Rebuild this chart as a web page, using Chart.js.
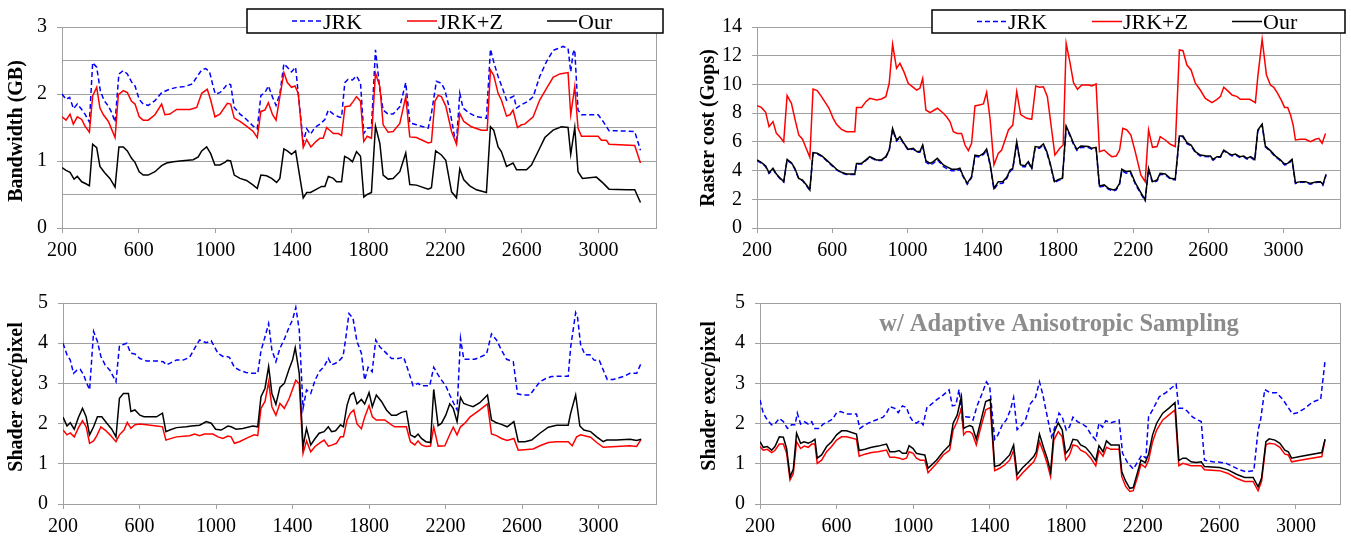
<!DOCTYPE html>
<html><head><meta charset="utf-8">
<script src="https://cdn.jsdelivr.net/npm/chart.js@4.4.0/dist/chart.umd.min.js"></script>
<style>
html,body{margin:0;padding:0;background:#fff;}
#wrap{position:relative;width:1351px;height:540px;overflow:hidden;background:#fff;}
canvas{position:absolute;}
</style></head><body>
<div id="wrap">
<canvas id="c1" width="675" height="270" style="left:0px;top:0px"></canvas>
<canvas id="c2" width="676" height="270" style="left:675px;top:0px"></canvas>
<canvas id="c3" width="675" height="270" style="left:0px;top:270px"></canvas>
<canvas id="c4" width="676" height="270" style="left:675px;top:270px"></canvas>
</div>
<script>
// ---------- categories / tick labels ----------
const seriesNames = ['JRK', 'JRK+Z', 'Our'];
const xTickValues = [200, 600, 1000, 1400, 1800, 2200, 2600, 3000];
const xTickLabels = ['200', '600', '1000', '1400', '1800', '2200', '2600', '3000'];
const bwYTicks = [0, 0.5, 1, 1.5, 2, 2.5, 3];
const bwYLabels = ['0', '', '1', '', '2', '', '3'];
const rcYTicks = [0, 2, 4, 6, 8, 10, 12, 14];
const rcYLabels = ['0', '2', '4', '6', '8', '10', '12', '14'];
const shYTicks = [0, 1, 2, 3, 4, 5];
const shYLabels = ['0', '1', '2', '3', '4', '5'];

// ---------- Bandwidth (GB) ----------
const bwJRK = [[200,2.00],[221,1.92],[240,1.95],[260,1.78],[280,1.85],[300,1.78],[320,1.70],[343,1.58],[360,2.47],[381,2.40],[400,2.05],[420,1.90],[442,1.82],[460,1.72],[477,1.58],[497,2.30],[520,2.35],[541,2.30],[563,2.18],[581,2.12],[603,1.92],[624,1.85],[650,1.83],[685,1.90],[720,2.02],[760,2.07],[800,2.10],[840,2.11],[880,2.15],[903,2.25],[929,2.36],[950,2.38],[970,2.33],[990,2.10],[1000,2.00],[1024,2.02],[1050,2.10],[1063,2.15],[1080,2.14],[1099,1.80],[1129,1.70],[1163,1.62],[1198,1.52],[1219,1.48],[1238,1.98],[1259,2.02],[1277,2.12],[1299,1.95],[1317,1.83],[1337,2.00],[1358,2.45],[1376,2.40],[1398,2.33],[1419,2.40],[1459,1.28],[1477,1.48],[1497,1.40],[1520,1.50],[1546,1.55],[1572,1.62],[1590,1.76],[1616,1.70],[1642,1.66],[1659,1.65],[1676,2.17],[1693,2.22],[1716,2.21],[1737,2.27],[1758,2.16],[1775,1.41],[1793,1.49],[1815,1.50],[1836,2.66],[1859,2.06],[1876,1.76],[1902,1.70],[1928,1.70],[1963,1.81],[1994,2.17],[2015,1.57],[2050,1.54],[2111,1.49],[2128,1.71],[2154,2.19],[2180,2.16],[2198,2.06],[2224,1.76],[2250,1.34],[2259,1.31],[2276,2.01],[2293,1.79],[2328,1.71],[2363,1.66],[2415,1.64],[2436,2.67],[2453,2.48],[2476,2.26],[2502,2.06],[2520,1.91],[2538,1.94],[2558,1.97],[2572,1.79],[2598,1.84],[2632,1.89],[2659,1.96],[2693,2.26],[2728,2.48],[2763,2.65],[2815,2.71],[2841,2.68],[2855,2.33],[2867,2.61],[2876,2.66],[2893,1.76],[2911,1.69],[2998,1.69],[3024,1.59],[3055,1.45],[3110,1.45],[3189,1.44],[3219,1.16]];
const bwJRKZ = [[200,1.66],[221,1.61],[242,1.70],[259,1.55],[280,1.66],[303,1.62],[320,1.52],[343,1.43],[360,1.97],[381,2.10],[398,1.79],[416,1.69],[442,1.59],[477,1.35],[494,1.99],[520,2.05],[541,2.02],[563,1.89],[581,1.85],[603,1.66],[624,1.61],[650,1.61],[685,1.69],[720,1.85],[737,1.69],[763,1.70],[798,1.77],[868,1.77],[903,1.80],[929,2.01],[958,2.07],[976,1.91],[998,1.66],[1024,1.70],[1063,1.86],[1080,1.85],[1099,1.64],[1129,1.59],[1163,1.52],[1198,1.44],[1219,1.35],[1238,1.74],[1259,1.76],[1277,1.87],[1299,1.69],[1317,1.61],[1337,1.96],[1358,2.32],[1376,2.17],[1398,2.10],[1416,2.12],[1433,2.01],[1459,1.20],[1477,1.32],[1499,1.21],[1525,1.29],[1546,1.34],[1563,1.34],[1581,1.50],[1616,1.41],[1642,1.41],[1659,1.38],[1677,1.81],[1702,1.82],[1720,1.89],[1737,1.96],[1758,1.89],[1775,1.29],[1793,1.37],[1815,1.34],[1836,2.31],[1859,2.11],[1876,1.54],[1902,1.43],[1928,1.44],[1963,1.56],[1994,1.96],[2015,1.36],[2050,1.35],[2111,1.27],[2128,1.28],[2146,1.89],[2163,1.98],[2180,1.96],[2203,1.82],[2233,1.44],[2259,1.25],[2276,1.71],[2297,1.59],[2337,1.51],[2389,1.46],[2419,1.46],[2436,2.36],[2453,2.28],[2476,2.01],[2493,1.91],[2520,1.67],[2538,1.69],[2554,1.76],[2577,1.50],[2598,1.54],[2615,1.55],[2659,1.66],[2693,1.91],[2728,2.08],[2763,2.25],[2798,2.30],[2841,2.32],[2855,1.69],[2876,2.11],[2893,1.49],[2911,1.37],[2998,1.37],[3015,1.31],[3041,1.31],[3055,1.25],[3189,1.23],[3219,0.97]];
const bwOur = [[200,0.90],[221,0.86],[242,0.83],[263,0.73],[280,0.77],[303,0.69],[325,0.66],[343,0.63],[360,1.25],[381,1.20],[398,0.92],[424,0.82],[450,0.74],[477,0.61],[497,1.21],[520,1.21],[541,1.15],[563,1.04],[581,0.98],[603,0.84],[624,0.79],[650,0.79],[685,0.84],[720,0.93],[746,0.97],[781,0.99],[816,1.00],[885,1.02],[911,1.06],[929,1.15],[955,1.21],[976,1.11],[998,0.94],[1024,0.94],[1050,0.98],[1063,1.01],[1080,1.00],[1099,0.79],[1129,0.74],[1163,0.71],[1198,0.64],[1219,0.59],[1238,0.79],[1268,0.78],[1294,0.74],[1320,0.68],[1337,0.74],[1358,1.18],[1376,1.15],[1398,1.10],[1419,1.15],[1459,0.45],[1477,0.53],[1497,0.53],[1529,0.58],[1555,0.62],[1572,0.62],[1590,0.77],[1616,0.74],[1633,0.69],[1659,0.69],[1675,1.07],[1695,1.04],[1716,0.99],[1737,1.14],[1758,1.07],[1775,0.46],[1793,0.50],[1815,0.53],[1836,1.52],[1859,1.26],[1876,0.79],[1902,0.73],[1928,0.74],[1963,0.84],[1994,1.12],[2015,0.65],[2050,0.64],[2111,0.58],[2128,0.60],[2150,1.15],[2180,1.09],[2203,1.01],[2233,0.54],[2259,0.45],[2276,0.88],[2297,0.72],[2328,0.63],[2363,0.57],[2415,0.53],[2436,1.51],[2453,1.46],[2476,1.21],[2493,1.14],[2520,0.92],[2554,0.97],[2572,0.87],[2624,0.87],[2650,0.94],[2693,1.19],[2720,1.35],[2763,1.46],[2806,1.51],[2841,1.50],[2855,1.10],[2876,1.50],[2893,0.84],[2916,0.74],[2989,0.76],[3024,0.67],[3055,0.58],[3146,0.57],[3189,0.57],[3219,0.38]];

// ---------- Raster cost (Gops) ----------
const rcJRK = [[200,4.70],[223,4.52],[246,4.28],[264,3.80],[285,4.10],[303,3.72],[324,3.42],[342,3.20],[360,4.72],[383,4.50],[401,4.10],[422,3.42],[442,3.30],[463,2.95],[481,2.60],[498,5.20],[520,5.15],[543,5.00],[566,4.74],[583,4.52],[605,4.28],[623,4.05],[649,3.84],[676,3.72],[720,3.72],[729,4.45],[756,4.45],[779,4.70],[800,4.92],[836,4.70],[862,4.70],[885,4.92],[903,5.38],[921,6.85],[942,6.05],[960,6.30],[981,5.85],[1004,5.42],[1031,5.50],[1049,5.28],[1066,5.28],[1081,5.70],[1098,4.60],[1120,4.38],[1137,4.50],[1159,4.75],[1191,4.28],[1208,4.15],[1235,3.98],[1262,3.98],[1279,4.08],[1294,3.62],[1318,3.05],[1341,3.50],[1359,5.00],[1382,4.95],[1404,5.12],[1421,5.42],[1439,4.42],[1460,2.68],[1483,3.10],[1507,3.12],[1528,3.45],[1546,3.95],[1560,4.10],[1581,5.92],[1602,4.30],[1625,4.26],[1643,4.55],[1661,4.10],[1679,5.58],[1702,5.55],[1723,5.78],[1741,5.25],[1759,4.42],[1782,3.15],[1803,3.32],[1824,3.40],[1844,7.00],[1865,6.40],[1883,5.82],[1901,5.40],[1922,5.62],[1963,5.60],[1980,5.48],[2003,5.55],[2021,2.85],[2046,2.92],[2069,2.70],[2096,2.58],[2110,2.66],[2128,3.05],[2140,4.00],[2163,3.82],[2185,3.88],[2211,3.08],[2238,2.45],[2264,1.90],[2282,4.08],[2303,3.15],[2327,3.28],[2344,3.75],[2371,3.70],[2398,3.40],[2424,3.35],[2446,6.35],[2465,6.35],[2486,5.88],[2508,5.72],[2531,5.26],[2557,5.02],[2584,4.98],[2611,4.95],[2625,4.72],[2646,4.92],[2664,4.92],[2682,5.38],[2708,5.15],[2726,5.02],[2744,5.10],[2767,4.92],[2788,4.95],[2806,4.80],[2824,4.92],[2847,4.72],[2863,6.75],[2886,7.18],[2903,5.65],[2930,5.33],[2957,4.95],[2980,4.72],[3005,4.40],[3022,4.44],[3045,4.72],[3063,3.10],[3090,3.18],[3116,3.18],[3143,3.05],[3179,3.18],[3196,3.18],[3209,2.98],[3226,3.68]];
const rcJRKZ = [[200,8.52],[223,8.40],[246,8.06],[264,7.06],[285,7.41],[303,6.59],[321,6.36],[342,6.01],[360,9.22],[383,8.68],[401,7.64],[422,6.48],[442,6.18],[463,5.50],[481,4.92],[498,9.68],[520,9.57],[543,9.15],[566,8.68],[583,8.34],[605,7.64],[623,7.22],[649,6.87],[676,6.71],[720,6.71],[729,8.40],[756,8.40],[779,8.80],[800,9.03],[836,8.92],[862,8.99],[885,9.15],[903,10.08],[921,12.79],[942,11.12],[960,11.47],[981,10.89],[1004,10.08],[1031,9.80],[1049,9.61],[1066,9.73],[1081,10.42],[1098,8.22],[1120,8.03],[1159,8.34],[1191,7.99],[1208,7.75],[1226,7.41],[1244,6.71],[1265,6.59],[1288,6.59],[1306,5.78],[1324,5.39],[1341,5.90],[1359,8.50],[1382,8.57],[1404,8.64],[1421,9.45],[1439,7.64],[1460,4.40],[1483,5.20],[1501,5.43],[1537,6.83],[1560,7.17],[1581,9.50],[1602,7.90],[1634,7.64],[1661,7.57],[1682,9.89],[1702,9.80],[1723,9.84],[1744,9.15],[1759,7.64],[1784,5.08],[1810,5.55],[1828,5.78],[1844,12.86],[1865,11.47],[1883,10.12],[1904,9.66],[1927,9.96],[1963,9.96],[1980,9.89],[2003,10.03],[2021,5.32],[2046,5.43],[2069,5.15],[2087,4.97],[2110,5.01],[2128,5.43],[2145,6.94],[2167,6.83],[2188,6.48],[2211,5.32],[2241,3.69],[2264,3.23],[2282,6.83],[2303,5.62],[2327,5.67],[2344,6.36],[2371,6.13],[2398,5.83],[2424,5.67],[2446,12.40],[2465,12.35],[2486,11.35],[2508,11.01],[2531,10.08],[2557,9.61],[2584,9.03],[2619,8.73],[2646,8.96],[2664,9.15],[2682,9.80],[2708,9.50],[2726,9.26],[2753,9.15],[2770,8.96],[2797,8.96],[2820,8.96],[2832,8.87],[2850,8.73],[2863,10.54],[2886,13.14],[2909,10.66],[2930,9.96],[2948,9.80],[2966,9.43],[2987,8.92],[3005,8.40],[3022,8.40],[3037,7.87],[3051,7.17],[3063,6.13],[3090,6.18],[3116,6.18],[3143,6.01],[3170,6.18],[3187,6.25],[3205,5.90],[3223,6.59]];
const rcOur = [[200,4.74],[223,4.57],[246,4.32],[264,3.85],[285,4.16],[303,3.76],[324,3.46],[342,3.23],[360,4.78],[383,4.55],[401,4.16],[422,3.46],[442,3.34],[463,3.00],[481,2.65],[498,5.25],[520,5.20],[543,5.04],[566,4.78],[583,4.57],[605,4.32],[623,4.09],[649,3.88],[676,3.76],[720,3.76],[729,4.50],[756,4.50],[779,4.74],[800,4.97],[836,4.74],[862,4.74],[885,4.97],[903,5.43],[921,6.94],[942,6.13],[960,6.36],[981,5.90],[1004,5.48],[1031,5.55],[1049,5.32],[1066,5.32],[1081,5.78],[1098,4.69],[1120,4.50],[1137,4.62],[1159,4.85],[1191,4.39],[1208,4.27],[1235,4.09],[1262,4.09],[1279,4.16],[1294,3.69],[1318,3.11],[1341,3.58],[1359,5.08],[1382,5.01],[1404,5.20],[1421,5.50],[1439,4.50],[1460,2.76],[1483,3.23],[1507,3.23],[1528,3.53],[1546,4.04],[1560,4.16],[1581,6.01],[1602,4.39],[1625,4.34],[1643,4.62],[1661,4.16],[1679,5.67],[1702,5.62],[1723,5.85],[1741,5.32],[1759,4.50],[1782,3.23],[1803,3.39],[1824,3.46],[1844,7.10],[1865,6.48],[1883,5.90],[1901,5.48],[1922,5.71],[1963,5.67],[1980,5.55],[2003,5.62],[2021,2.93],[2046,3.00],[2069,2.76],[2096,2.65],[2110,2.72],[2128,3.11],[2140,4.09],[2163,3.92],[2185,3.97],[2211,3.16],[2238,2.53],[2264,1.95],[2282,4.16],[2303,3.23],[2327,3.34],[2344,3.81],[2371,3.76],[2398,3.46],[2424,3.41],[2446,6.41],[2465,6.41],[2486,5.94],[2508,5.78],[2531,5.32],[2557,5.08],[2584,5.04],[2611,5.01],[2625,4.78],[2646,4.97],[2664,4.97],[2682,5.43],[2708,5.20],[2726,5.08],[2744,5.15],[2767,4.97],[2788,5.01],[2806,4.85],[2824,4.97],[2847,4.78],[2863,6.83],[2886,7.24],[2903,5.71],[2930,5.39],[2957,5.01],[2980,4.78],[3005,4.46],[3022,4.50],[3045,4.78],[3063,3.16],[3090,3.23],[3116,3.23],[3143,3.11],[3179,3.23],[3196,3.23],[3209,3.04],[3226,3.74]];

// ---------- Shader exec/pixel ----------
const shJRK = [[200,4.00],[221,3.71],[238,3.58],[255,3.25],[273,3.33],[290,3.35],[308,3.21],[321,3.04],[339,2.84],[360,4.29],[380,4.04],[398,3.67],[420,3.46],[446,3.32],[477,3.04],[495,3.93],[512,3.96],[533,4.00],[554,3.75],[576,3.73],[602,3.62],[637,3.56],[689,3.56],[724,3.54],[741,3.46],[758,3.50],[793,3.58],[828,3.58],[862,3.65],[888,3.87],[914,4.08],[949,4.01],[975,4.06],[1010,3.75],[1036,3.67],[1053,3.67],[1070,3.65],[1096,3.40],[1122,3.33],[1157,3.27],[1192,3.25],[1218,3.25],[1235,3.81],[1256,4.16],[1275,4.49],[1292,3.83],[1313,3.54],[1334,3.87],[1357,4.10],[1383,4.41],[1400,4.58],[1417,4.89],[1435,4.33],[1455,2.38],[1473,2.84],[1495,2.75],[1518,3.08],[1539,3.29],[1565,3.42],[1587,3.62],[1604,3.46],[1625,3.50],[1647,3.58],[1664,3.67],[1678,4.12],[1695,4.74],[1716,4.62],[1737,4.04],[1760,3.75],[1777,3.08],[1795,3.40],[1816,3.29],[1835,4.08],[1856,3.91],[1882,3.79],[1917,3.62],[1952,3.62],[1981,3.65],[2004,3.33],[2030,2.94],[2056,3.00],[2074,2.94],[2117,2.94],[2138,3.40],[2161,3.21],[2179,3.08],[2201,2.94],[2222,2.71],[2243,2.50],[2260,2.34],[2278,4.12],[2295,3.60],[2318,3.60],[2353,3.60],[2379,3.65],[2414,3.73],[2440,4.23],[2466,4.08],[2492,3.83],[2519,3.60],[2554,3.54],[2576,2.74],[2606,2.71],[2641,2.71],[2667,2.88],[2693,3.04],[2719,3.11],[2754,3.17],[2798,3.18],[2841,3.18],[2854,3.91],[2880,4.76],[2890,4.64],[2906,3.96],[2929,3.71],[2955,3.71],[2976,3.58],[3004,3.57],[3028,3.29],[3045,3.10],[3077,3.10],[3129,3.17],[3164,3.25],[3199,3.25],[3222,3.50]];
const shJRKZ = [[200,1.84],[221,1.72],[238,1.77],[259,1.67],[281,1.90],[302,2.07],[321,1.92],[339,1.51],[360,1.57],[377,1.70],[398,1.92],[420,1.84],[446,1.72],[477,1.55],[495,1.72],[519,1.84],[536,2.03],[555,1.88],[576,1.97],[602,1.99],[637,1.97],[689,1.94],[720,1.92],[738,1.59],[758,1.62],[793,1.67],[862,1.70],[888,1.74],[914,1.70],[940,1.74],[984,1.74],[1010,1.67],[1036,1.63],[1062,1.69],[1079,1.67],[1096,1.51],[1122,1.55],[1166,1.65],[1200,1.72],[1218,1.70],[1235,2.38],[1256,2.55],[1275,3.04],[1292,2.42],[1313,2.21],[1334,2.50],[1357,2.38],[1383,2.63],[1417,3.08],[1435,2.99],[1455,1.26],[1473,1.57],[1495,1.30],[1518,1.43],[1539,1.51],[1565,1.59],[1587,1.44],[1608,1.47],[1629,1.51],[1651,1.67],[1666,1.67],[1685,2.09],[1702,2.26],[1720,2.34],[1737,1.99],[1760,1.87],[1777,2.16],[1800,2.45],[1817,2.17],[1838,2.09],[1882,2.09],[1917,1.97],[1934,1.92],[1995,1.92],[2016,1.55],[2039,1.47],[2056,1.57],[2074,1.47],[2097,1.43],[2121,1.44],[2138,1.92],[2161,1.44],[2196,1.45],[2222,1.73],[2240,1.91],[2260,1.72],[2278,1.92],[2301,2.01],[2327,2.16],[2379,2.34],[2419,2.49],[2440,1.74],[2466,1.70],[2492,1.63],[2522,1.58],[2557,1.63],[2580,1.34],[2658,1.37],[2693,1.45],[2737,1.53],[2780,1.55],[2841,1.55],[2862,1.45],[2885,1.67],[2906,1.72],[2958,1.66],[2990,1.53],[3024,1.41],[3094,1.43],[3164,1.45],[3199,1.43],[3222,1.61]];
const shOur = [[200,2.16],[221,1.94],[238,2.02],[259,1.86],[281,2.16],[302,2.38],[321,2.17],[339,1.72],[360,1.92],[380,2.17],[403,2.17],[429,2.01],[455,1.86],[477,1.67],[495,2.63],[516,2.75],[542,2.75],[555,2.30],[576,2.34],[602,2.21],[623,2.17],[689,2.17],[720,2.26],[738,1.80],[758,1.84],[793,1.90],[845,1.92],[871,1.94],[914,1.96],[949,2.05],[975,2.01],[998,1.86],[1027,1.84],[1062,1.94],[1079,1.92],[1105,1.86],[1140,1.88],[1192,1.94],[1218,1.92],[1235,2.67],[1256,2.88],[1275,3.42],[1292,2.75],[1313,2.48],[1334,2.90],[1357,3.00],[1383,3.37],[1400,3.58],[1414,3.89],[1435,3.25],[1455,1.43],[1473,1.88],[1495,1.47],[1518,1.63],[1539,1.76],[1565,1.80],[1587,1.92],[1604,1.80],[1625,1.82],[1651,1.97],[1666,1.92],[1685,2.46],[1702,2.71],[1720,2.77],[1737,2.49],[1760,2.60],[1777,2.49],[1800,2.77],[1817,2.42],[1838,2.71],[1865,2.55],[1891,2.34],[1917,2.21],[1943,2.21],[1969,2.28],[1995,2.31],[2016,1.72],[2039,1.66],[2056,1.74],[2074,1.63],[2097,1.55],[2121,1.53],[2138,2.85],[2161,1.95],[2179,2.01],[2201,2.21],[2222,2.49],[2240,2.38],[2260,2.05],[2278,2.65],[2295,2.50],[2318,2.46],[2344,2.42],[2379,2.52],[2419,2.71],[2440,2.09],[2466,2.02],[2492,1.98],[2522,1.92],[2557,2.05],[2580,1.55],[2615,1.55],[2650,1.59],[2693,1.76],[2737,1.91],[2780,1.96],[2841,1.96],[2854,2.26],[2880,2.71],[2902,1.94],[2923,1.84],[2958,1.80],[2990,1.67],[3024,1.55],[3042,1.59],[3094,1.59],[3164,1.61],[3199,1.58],[3222,1.61]];

// ---------- Shader exec/pixel, w/ Adaptive Anisotropic Sampling ----------
const aaJRK = [[200,2.59],[217,2.26],[238,2.09],[261,1.97],[278,1.99],[301,2.13],[322,2.05],[343,1.88],[365,1.97],[383,1.97],[395,2.26],[412,1.99],[431,2.05],[452,1.99],[470,2.05],[487,1.88],[510,1.88],[530,1.99],[557,2.05],[579,2.11],[600,2.27],[621,2.30],[652,2.24],[704,2.24],[722,1.88],[748,1.97],[783,2.05],[817,2.11],[843,2.16],[861,2.26],[878,2.42],[904,2.38],[922,2.27],[944,2.44],[965,2.40],[983,2.17],[1000,2.05],[1017,2.01],[1035,2.07],[1052,1.97],[1073,2.42],[1090,2.46],[1122,2.59],[1157,2.71],[1188,2.84],[1205,2.44],[1223,2.46],[1240,2.85],[1257,2.09],[1275,2.17],[1296,2.16],[1313,2.09],[1334,2.44],[1357,2.71],[1383,3.04],[1400,2.92],[1426,1.61],[1443,1.72],[1466,1.97],[1487,2.09],[1508,2.34],[1525,2.65],[1543,1.85],[1560,1.92],[1587,2.09],[1613,2.50],[1639,2.65],[1660,3.04],[1678,2.71],[1700,2.19],[1723,1.67],[1741,1.92],[1762,2.26],[1779,2.16],[1800,1.84],[1817,1.92],[1835,2.16],[1858,2.05],[1884,1.99],[1905,1.92],[1928,1.74],[1954,1.59],[1971,2.01],[1989,1.91],[2006,2.07],[2033,2.02],[2055,2.05],[2076,2.09],[2094,1.26],[2120,1.03],[2150,0.87],[2173,1.05],[2195,1.22],[2216,1.14],[2230,2.17],[2251,2.34],[2286,2.67],[2321,2.77],[2347,2.88],[2374,2.98],[2388,2.38],[2409,2.38],[2430,2.32],[2461,2.16],[2487,2.09],[2505,2.05],[2522,1.09],[2566,1.05],[2601,1.04],[2636,1.01],[2671,0.93],[2706,0.85],[2741,0.80],[2780,0.83],[2802,1.84],[2815,2.09],[2837,2.85],[2863,2.77],[2899,2.77],[2933,2.59],[2951,2.46],[2982,2.24],[3007,2.27],[3047,2.38],[3082,2.52],[3105,2.57],[3129,2.60],[3152,3.57]];
const aaJRKZ = [[200,1.43],[217,1.34],[238,1.36],[261,1.28],[278,1.33],[301,1.49],[322,1.49],[339,1.26],[357,0.60],[374,0.76],[391,1.55],[412,1.38],[431,1.44],[452,1.41],[470,1.49],[487,1.49],[499,1.01],[522,1.09],[548,1.30],[574,1.43],[600,1.59],[626,1.67],[652,1.67],[704,1.61],[718,1.19],[748,1.24],[783,1.28],[817,1.30],[861,1.34],[878,1.16],[904,1.16],[930,1.14],[944,1.11],[965,1.14],[979,1.30],[1000,1.26],[1017,1.14],[1038,1.09],[1061,1.09],[1078,0.78],[1122,1.01],[1157,1.22],[1191,1.34],[1209,1.84],[1230,2.05],[1252,2.38],[1264,1.72],[1278,1.80],[1296,1.80],[1310,1.74],[1330,1.47],[1357,1.97],[1379,2.34],[1403,2.40],[1426,0.83],[1452,0.89],[1478,0.97],[1504,1.09],[1525,1.33],[1543,0.61],[1569,0.76],[1604,0.93],[1630,1.05],[1643,1.18],[1660,1.55],[1683,1.26],[1700,1.01],[1718,0.68],[1735,1.59],[1758,1.80],[1779,1.67],[1797,1.09],[1817,1.22],[1835,1.47],[1858,1.44],[1875,1.34],[1901,1.28],[1928,1.14],[1954,0.95],[1971,1.33],[1992,1.19],[2010,1.41],[2033,1.36],[2076,1.36],[2090,0.68],[2111,0.43],[2132,0.31],[2150,0.33],[2173,0.68],[2190,0.99],[2213,0.91],[2230,1.09],[2251,1.55],[2272,1.84],[2304,2.09],[2335,2.21],[2368,2.34],[2388,0.95],[2409,1.01],[2452,0.95],[2505,0.95],[2522,0.85],[2601,0.83],[2645,0.76],[2689,0.64],[2732,0.56],[2776,0.56],[2802,0.33],[2820,0.56],[2843,1.47],[2860,1.51],[2890,1.49],[2916,1.41],[2942,1.24],[2960,1.22],[2977,1.05],[3021,1.09],[3135,1.18],[3152,1.61]];
const aaOur = [[200,1.55],[217,1.41],[238,1.43],[261,1.34],[278,1.43],[301,1.67],[322,1.66],[339,1.38],[357,0.68],[374,0.86],[391,1.76],[412,1.51],[431,1.55],[452,1.51],[470,1.55],[487,1.61],[499,1.14],[522,1.22],[548,1.43],[574,1.55],[600,1.72],[626,1.82],[652,1.82],[704,1.74],[718,1.33],[748,1.36],[783,1.41],[817,1.44],[861,1.49],[878,1.30],[904,1.30],[927,1.33],[944,1.26],[965,1.26],[979,1.45],[1000,1.38],[1017,1.26],[1038,1.24],[1061,1.22],[1078,0.89],[1122,1.09],[1157,1.30],[1191,1.47],[1209,2.01],[1230,2.21],[1252,2.67],[1264,1.88],[1278,1.92],[1296,1.95],[1310,1.92],[1330,1.61],[1357,2.13],[1379,2.55],[1403,2.60],[1426,0.93],[1452,0.97],[1478,1.09],[1504,1.22],[1525,1.47],[1543,0.73],[1569,0.89],[1604,1.05],[1630,1.18],[1643,1.30],[1660,1.74],[1683,1.38],[1700,1.14],[1718,0.80],[1735,1.76],[1758,2.02],[1779,1.84],[1797,1.26],[1817,1.38],[1835,1.61],[1858,1.59],[1875,1.47],[1901,1.41],[1928,1.26],[1954,1.08],[1971,1.45],[1992,1.30],[2010,1.57],[2033,1.47],[2076,1.47],[2090,0.80],[2111,0.56],[2132,0.39],[2150,0.41],[2173,0.80],[2190,1.09],[2213,1.03],[2230,1.24],[2251,1.72],[2272,2.01],[2304,2.26],[2335,2.38],[2368,2.52],[2388,1.08],[2409,1.14],[2426,1.14],[2452,1.05],[2479,1.03],[2505,1.05],[2522,0.93],[2601,0.91],[2645,0.85],[2689,0.74],[2732,0.66],[2776,0.66],[2802,0.43],[2820,0.64],[2843,1.55],[2860,1.62],[2890,1.59],[2916,1.51],[2942,1.34],[2960,1.30],[2977,1.14],[3021,1.18],[3135,1.28],[3152,1.61]];

// ---------- rendering ----------
const GRID = '#a0a0a0';
const SERIF = "'Liberation Serif', 'Times New Roman', serif";
Chart.defaults.font.family = SERIF;

const panels = [
  {id:'c1', w:675, h:270, area:{l:62, r:656, t:27, b:228}, xMax:3300, yMax:3,
   yTicks:bwYTicks, yLabels:bwYLabels, title:'Bandwidth (GB)', titleX:17, titleY:131,
   legend:{x:247, y:9, w:416, h:24}, series:[bwJRK, bwJRKZ, bwOur]},
  {id:'c2', w:676, h:270, area:{l:82, r:665, t:27, b:228}, xMax:3300, yMax:14,
   yTicks:rcYTicks, yLabels:rcYLabels, title:'Raster cost (Gops)', titleX:34, titleY:128,
   legend:{x:257, y:10, w:413, h:23}, series:[rcJRK, rcJRKZ, rcOur]},
  {id:'c3', w:675, h:270, area:{l:63, r:656, t:33, b:234}, xMax:3300, yMax:5,
   yTicks:shYTicks, yLabels:shYLabels, title:'Shader exec/pixel', titleX:17, titleY:127,
   series:[shJRK, shJRKZ, shOur]},
  {id:'c4', w:676, h:270, area:{l:85, r:665, t:33, b:234}, xMax:3230, yMax:5,
   yTicks:shYTicks, yLabels:shYLabels, title:'Shader exec/pixel', titleX:35, titleY:126,
   subtitle:'w/ Adaptive Anisotropic Sampling', subX:384, subY:61,
   series:[aaJRK, aaJRKZ, aaOur]}
];

const styles = [
  {color:'#0000ff', dash:[5,3]},
  {color:'#ff0000', dash:[]},
  {color:'#000000', dash:[]}
];

function decor(p){
  return {
    id:'decor',
    beforeDatasetsDraw(chart){
      const ctx = chart.ctx, a = chart.chartArea;
      ctx.save();
      ctx.strokeStyle = GRID; ctx.lineWidth = 1;
      ctx.strokeRect(Math.round(a.left)+0.5, Math.round(a.top)+0.5,
                     Math.round(a.right)-Math.round(a.left), Math.round(a.bottom)-Math.round(a.top));
      ctx.restore();
    },
    afterDraw(chart){
      const ctx = chart.ctx;
      ctx.save();
      ctx.translate(p.titleX, p.titleY);
      ctx.rotate(-Math.PI/2);
      ctx.font = "bold 20px " + SERIF;
      ctx.fillStyle = '#000'; ctx.textAlign = 'center'; ctx.textBaseline = 'middle';
      ctx.fillText(p.title, 0, 0);
      ctx.restore();
      if (p.legend){
        const L = p.legend;
        ctx.save();
        ctx.fillStyle = '#fff';
        ctx.fillRect(L.x, L.y, L.w, L.h);
        ctx.strokeStyle = '#000'; ctx.lineWidth = 1.5;
        ctx.strokeRect(L.x, L.y, L.w, L.h);
        const offs = [45, 160, 300];
        const cy = L.y + L.h/2;
        ctx.font = "22px " + SERIF;
        ctx.textBaseline = 'alphabetic'; ctx.textAlign = 'left';
        for (let i = 0; i < 3; i++){
          ctx.beginPath();
          ctx.setLineDash(styles[i].dash);
          ctx.strokeStyle = styles[i].color; ctx.lineWidth = 1.5;
          ctx.moveTo(L.x + offs[i], cy); ctx.lineTo(L.x + offs[i] + 30, cy);
          ctx.stroke();
          ctx.setLineDash([]);
          ctx.fillStyle = '#000';
          ctx.fillText(seriesNames[i], L.x + offs[i] + 31, cy + 7.5);
        }
        ctx.restore();
      }
      if (p.subtitle){
        ctx.save();
        ctx.font = "bold 24.5px " + SERIF;
        ctx.fillStyle = '#8c8c8c'; ctx.textAlign = 'center'; ctx.textBaseline = 'alphabetic';
        ctx.fillText(p.subtitle, p.subX, p.subY);
        ctx.restore();
      }
    }
  };
}

function makePanel(p){
  const datasets = p.series.map((s, i) => ({
    label: seriesNames[i], data: s,
    borderColor: styles[i].color, borderDash: styles[i].dash,
    borderWidth: 1.5, pointRadius: 0, tension: 0, fill: false,
    order: 2 - i
  }));
  new Chart(document.getElementById(p.id), {
    type: 'line',
    data: {datasets},
    options: {
      responsive: false, animation: false, events: [],
      layout: {padding: {left: 0, top: p.area.t, right: p.w - p.area.r, bottom: 0}},
      plugins: {legend: {display: false}, tooltip: {enabled: false}},
      scales: {
        x: {
          type: 'linear', min: 200, max: p.xMax,
          afterBuildTicks: s => { s.ticks = xTickValues.map(v => ({value: v})); },
          afterFit: s => { s.height = p.h - p.area.b; },
          ticks: {autoSkip: false, maxRotation: 0, padding: 6, color: '#000',
                  font: {size: 20, family: SERIF}, callback: (v, i) => xTickLabels[i]},
          grid: {drawOnChartArea: false, drawTicks: true, tickLength: 5, color: GRID},
          border: {display: true, color: GRID, width: 1}
        },
        y: {
          type: 'linear', min: 0, max: p.yMax,
          afterBuildTicks: s => { s.ticks = p.yTicks.map(v => ({value: v})); },
          afterFit: s => { s.width = p.area.l; },
          ticks: {autoSkip: false, padding: 10, color: '#000',
                  font: {size: 20, family: SERIF}, callback: (v, i) => p.yLabels[i]},
          grid: {color: GRID, tickLength: 5,
                 tickColor: c => (p.yLabels[c.index] ? GRID : 'rgba(0,0,0,0)')},
          border: {display: true, color: GRID, width: 1}
        }
      }
    },
    plugins: [decor(p)]
  });
}

panels.forEach(makePanel);
</script>
</body></html>
